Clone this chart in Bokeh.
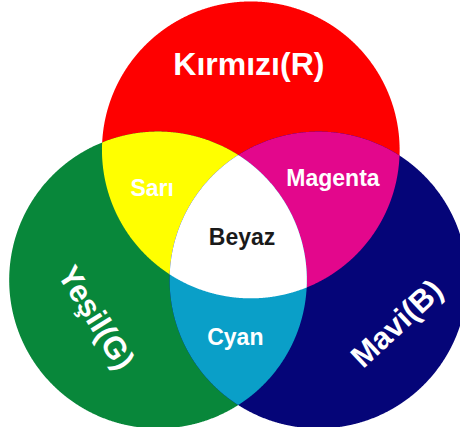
import numpy as np
from bokeh.plotting import figure
from bokeh.models import Range1d
from bokeh.core.properties import value
from bokeh.embed import file_html
from bokeh.resources import INLINE

# ---- data ----
primary_names = ["Kırmızı(R)", "Yeşil(G)", "Mavi(B)"]
primary_colors = ["#FE0000", "#08873A", "#050578"]
pair_names = ["Sarı", "Magenta", "Cyan"]          # R∩G, R∩B, G∩B
pair_members = [(0, 1), (0, 2), (1, 2)]
pair_colors = ["#FFFF00", "#E3078C", "#0A9FC8"]
center_name = "Beyaz"
center_color = "#FFFFFF"

# ---- layout (reference pixel coordinates, y downward) ----
W, H = 476, 443
cx = [259, 163, 329]
cy = [155, 290, 290]
R = 154

def up(y):
    return H - y

def region(idx):
    """Convex intersection of the circles in idx, as a polygon (y up)."""
    pts = []
    t = np.linspace(0, 2 * np.pi, 1440, endpoint=False)
    for i in idx:
        x = cx[i] + R * np.cos(t)
        y = cy[i] + R * np.sin(t)
        ok = np.ones_like(t, dtype=bool)
        for j in idx:
            if j != i:
                ok &= (x - cx[j]) ** 2 + (y - cy[j]) ** 2 <= R * R + 1e-6
        pts.append(np.column_stack([x[ok], y[ok]]))
    pts = np.vstack(pts)
    m = pts.mean(axis=0)
    order = np.argsort(np.arctan2(pts[:, 1] - m[1], pts[:, 0] - m[0]))
    pts = pts[order]
    return list(pts[:, 0]), [up(v) for v in pts[:, 1]]

p = figure(width=460, height=427, output_backend="svg", toolbar_location=None,
           x_range=Range1d(0, W), y_range=Range1d(0, H),
           min_border=0, background_fill_color="white", border_fill_color="white")
p.axis.visible = False
p.grid.visible = False
p.outline_line_color = None

# primary circles
for i in range(3):
    xs, ys = region([i])
    p.patch(xs, ys, fill_color=primary_colors[i], line_color=None)
# pairwise overlaps
for k, (a, b) in enumerate(pair_members):
    xs, ys = region([a, b])
    p.patch(xs, ys, fill_color=pair_colors[k], line_color=None)
# triple overlap
xs, ys = region([0, 1, 2])
p.patch(xs, ys, fill_color=center_color, line_color=None)

font = value("Liberation Sans")
# primary labels
p.text(x=[257], y=[up(66)], text=[primary_names[0]], text_font=font, text_font_style="bold",
       text_font_size="32px", text_color="white", text_align="center", text_baseline="middle")
p.text(x=[99], y=[up(329)], text=[primary_names[1]], angle=[-58], angle_units="deg",
       text_font=font, text_font_style="bold", text_font_size="31px", text_color="white",
       text_align="center", text_baseline="middle")
p.text(x=[410], y=[up(335)], text=[primary_names[2]], angle=[43], angle_units="deg",
       text_font=font, text_font_style="bold", text_font_size="31px", text_color="white",
       text_align="center", text_baseline="middle")
# secondary labels
px = [157, 344, 243]
py = [195, 184, 349]
p.text(x=px, y=[up(v) for v in py], text=pair_names, text_font=font, text_font_style="bold",
       text_font_size="23px", text_color="white", text_align="center", text_baseline="middle")
p.text(x=[250], y=[up(245)], text=[center_name], text_font=font, text_font_style="bold",
       text_font_size="23px", text_color="#1A1A1A", text_align="center", text_baseline="middle")

open("out.html", "w").write(file_html(p, INLINE))
